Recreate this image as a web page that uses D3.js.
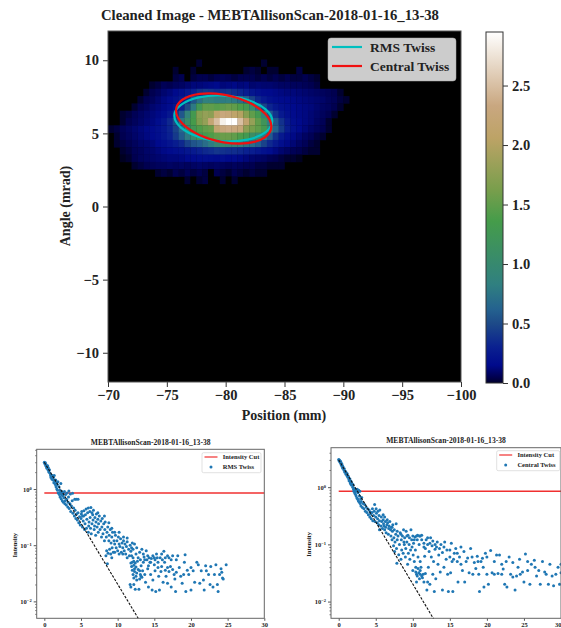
<!DOCTYPE html>
<html>
<head>
<meta charset="utf-8">
<script src="https://d3js.org/d3.v7.min.js"></script>
<style>
    html, body { margin: 0; padding: 0; background: #fff; overflow: hidden; }
    text { font-family: "Liberation Serif", serif; font-weight: bold; fill: #222; }
</style>
</head>
<body>
<svg id="drawing_region" width="561" height="628"></svg>
<script>
const scanName = "MEBTAllisonScan-2018-01-16_13-38";
const mainTitle = "Cleaned Image - " + scanName;

// heat map: one list per row, top row first
const heatTop = [10.05, 9.55, 9.05, 8.55, 8.05, 7.55, 7.05, 6.55, 6.05, 5.55, 5.05, 4.55, 4.05, 3.55, 3.05, 2.55, 2.05];
const heatStart = [-77.5, -75.5, -75.5, -73.5, -73, -72.5, -72, -71, -71, -70, -70.5, -70.5, -71, -71, -72, -74, -76.5];
const heatRows = [
    [.03,0,0,0,0,0,0,0,0,0,0,.03],
    [.03,0,0,.03,0,0,0,0,0,0,0,0,.03,.04,.03,0,.03,.03,0,0,0,.04],
    [.04,.05,0,.04,.05,.05,.04,.05,.06,.05,.04,.05,.05,.05,.04,.05,.04,.05,.04,.05,.04,.04,.05,.04,.03],
    [.03,.04,.06,.05,.07,.08,.10,.12,.12,.13,.14,.15,.12,.13,.14,.12,.13,.10,.11,.10,.10,.09,.08,.08,.07,.07,.06,.05,.04],
    [.03,.05,.07,.10,.12,.15,.20,.25,.30,.38,.42,.40,.36,.38,.40,.36,.33,.28,.23,.19,.16,.15,.14,.13,.12,.12,.11,.10,.09,.08,.07,.06,.05,.03],
    [.03,.05,.07,.10,.13,.16,.20,.26,.36,.55,.72,.85,.85,.80,.80,.82,.78,.70,.60,.46,.33,.25,.20,.17,.16,.15,.14,.13,.12,.11,.10,.09,.07,.06,.04,.03],
    [.03,.05,.07,.10,.12,.14,.17,.23,.32,.50,.78,1.25,1.50,1.50,1.45,1.50,1.55,1.50,1.40,1.30,1.00,.68,.46,.32,.24,.19,.17,.15,.14,.13,.12,.10,.08,.07,.05,.03],
    [.03,.04,.06,.08,.10,.12,.14,.17,.24,.36,.56,.88,1.30,1.70,1.80,1.75,2.10,2.30,2.25,2.10,2.00,1.70,1.50,1.30,.88,.56,.38,.25,.19,.16,.14,.13,.11,.09,.07,.05,.03],
    [.03,.05,.07,.09,.11,.13,.17,.23,.34,.50,.76,1.05,1.35,1.65,1.80,2.20,2.50,2.85,2.95,2.95,2.50,2.15,1.80,1.50,1.20,.82,.56,.38,.25,.18,.15,.13,.11,.08,.06,.03],
    [.03,.04,.06,.08,.10,.12,.14,.16,.19,.24,.32,.46,.66,.92,1.25,1.40,1.50,1.55,2.15,2.30,2.35,2.30,2.25,1.75,1.60,1.50,1.30,.92,.62,.42,.27,.19,.15,.12,.09,.07,.05,.03],
    [.03,.05,.07,.09,.11,.13,.15,.18,.23,.30,.42,.58,.78,1.00,1.20,1.30,1.40,1.50,1.55,1.55,1.50,1.40,1.30,1.10,1.00,.78,.58,.38,.25,.18,.14,.11,.08,.06,.04,.03],
    [.03,.04,.05,.07,.09,.10,.12,.15,.18,.22,.27,.34,.46,.55,.60,.70,.80,.95,1.00,.95,.90,.85,.75,.70,.60,.46,.34,.25,.18,.14,.11,.08,.06,.04,.03],
    [.03,.04,.06,.07,.09,.10,.12,.14,.16,.18,.20,.23,.26,.30,.34,.36,.40,.38,.36,.36,.34,.30,.28,.24,.20,.17,.13,.10,.08,.06,.05,.04,.03,.03],
    [.02,.03,.05,.07,.08,.09,.10,.11,.12,.12,.13,.15,.16,.17,.18,.17,.16,.18,.15,.16,.14,.12,.10,.09,.08,.06,.05,.04,.03,.03,.02],
    [.03,.04,.05,.06,.07,.07,.08,.07,.08,.07,.08,.09,.08,.07,.08,.07,.06,.07,.06,.05,.05,.04,.04,.03,.03,.03],
    [.03,.04,.03,.05,.04,.06,.04,.05,.04,0,.05,.04,.03,.05,.04,.03,.04,.03,.03],
    [.03,0,.03,.04,0,0,.03,0,.03]
];
const heatMax = 2.95;

// colour map, value then colour
const earthValues = [0, .05, .15, .3, .5, .62, .83, 1.36, 1.62, 2.06, 2.33, 2.95];
const earthColors = ["#000000", "#000050", "#000a8c", "#0a2090", "#1d4a88", "#24628f", "#308080", "#459c4a", "#789e4c", "#bda366", "#c9a780", "#ffffff"];

const mainXTicks = [-70, -75, -80, -85, -90, -95, -100];
const mainYTicks = [-10, -5, 0, 5, 10];
const barTicks = [0, 0.5, 1, 1.5, 2, 2.5];

// twiss ellipses: position (mm), angle (mrad)
const rmsEllipse = [[-83.96,5.84],[-83.40,6.64],[-81.88,7.28],[-79.80,7.58],[-77.72,7.46],[-76.20,6.95],[-75.64,6.20],[-76.20,5.39],[-77.72,4.76],[-79.80,4.46],[-81.88,4.57],[-83.40,5.08]];
const centralEllipse = [[-83.88,5.48],[-83.34,6.36],[-81.85,7.16],[-79.83,7.65],[-77.80,7.70],[-76.32,7.30],[-75.78,6.56],[-76.32,5.67],[-77.80,4.88],[-79.83,4.39],[-81.85,4.33],[-83.34,4.73]];

const cutValue = 0.85;
const fitX = [0, 12.8];
const fitY = [3.0, 0.005];
const scatterXTicks = [0, 5, 10, 15, 20, 25, 30];
const scatterYTicks = [1, 0.1, 0.01];
const scatterYLabels = ["0", "\u22121", "\u22122"];

const rmsPoints = [[0,3.0],[.05,2.9],[.1,2.8],[.15,2.95],[.2,2.6],[.25,2.7],[.3,2.5],[.35,2.35],[.4,2.45],[.45,2.6],[.5,2.2],[.55,2.4],[.6,2.1],[.65,2.0],[.7,2.2],[.8,1.9],[.85,1.75],[.9,1.6],[1,1.7],[1.05,1.5],[1.1,1.75],[1.2,1.45],[1.25,1.6],[1.3,1.3],[1.35,1.75],[1.4,1.4],[1.5,1.2],[1.55,1.45],[1.6,1.1],[1.65,1.3],[1.7,1.0],[1.75,1.2],[1.8,.95],[1.85,1.35],[1.9,.85],[2,1.1],[2.05,.8],[2.1,.95],[2.15,.72],[2.2,.88],[2.25,1.25],[2.3,.67],[2.35,.8],[2.4,.9],[2.45,.62],[2.5,.75],[2.55,.85],[2.6,.58],[2.7,.7],[2.75,.9],[2.8,.55],[2.85,.62],[2.9,.8],[3,.52],[3.05,.65],[3.1,.85],[3.2,.48],[3.25,.58],[3.3,.72],[3.35,.92],[3.4,.45],[3.5,.55],[3.55,.82],[3.6,.4],[3.7,.5],[3.8,.62],[3.85,.84],[3.9,.37],[4,.46],[4.1,.33],[4.15,.66],[4.2,.42],[4.3,.3],[4.35,.66],[4.4,.36],[4.5,.28],[4.6,.66],[4.6,.38],[4.7,.25],[4.8,.32],[4.9,.23],[5,.3],[5.05,.36],[5.1,.4],[5.2,.21],[5.3,.27],[5.35,.33],[5.4,.41],[5.5,.19],[5.55,.24],[5.6,.35],[5.7,.44],[5.75,.2],[5.8,.29],[5.9,.38],[6,.17],[6.05,.22],[6.1,.26],[6.2,.4],[6.25,.31],[6.3,.2],[6.35,.47],[6.4,.16],[6.5,.24],[6.6,.35],[6.65,.28],[6.7,.42],[6.8,.19],[6.85,.22],[6.9,.31],[7,.15],[7.05,.26],[7.1,.36],[7.2,.21],[7.3,.29],[7.35,.17],[7.4,.24],[7.5,.33],[7.6,.19],[7.7,.27],[7.8,.14],[7.85,.21],[7.9,.3],[8,.16],[8.1,.24],[8.2,.12],[8.25,.19],[8.3,.26],[8.4,.065],[8.45,.14],[8.5,.08],[8.55,.17],[8.6,.047],[8.65,.21],[8.7,.072],[8.8,.12],[8.85,.15],[8.9,.085],[9,.19],[9.05,.07],[9.1,.11],[9.2,.14],[9.25,.09],[9.3,.17],[9.4,.075],[9.5,.12],[9.6,.105],[9.7,.15],[9.8,.09],[9.9,.12],[10,.08],[10.1,.14],[10.2,.105],[10.3,.095],[10.4,.13],[10.5,.075],[10.6,.11],[10.7,.09],[10.8,.12],[10.9,.08],[11,.105],[11.1,.07],[11.2,.095],[11.3,.115],[11.5,.085],[11.6,.065],[11.7,.1],[11.8,.078],[11.9,.09],[12,.11],[11.8,.048],[11.9,.042],[12,.036],[12,.05],[12.1,.03],[12.2,.044],[12.2,.026],[12.3,.034],[12.3,.038],[12.4,.048],[12.5,.028],[12.5,.041],[12.6,.032],[12.7,.052],[12.8,.037],[11.7,.02],[11.8,.018],[12.4,.0165],[12.9,.0165],[13,.025],[13.1,.03],[13.2,.043],[13.3,.027],[13.4,.035],[13.5,.05],[13.6,.062],[13.7,.03],[13.8,.022],[14,.055],[14.1,.038],[14.2,.018],[14.4,.05],[14.5,.03],[14.6,.058],[14.7,.016],[14.8,.024],[15,.045],[15,.06],[15.1,.035],[15.2,.015],[15.4,.06],[15.6,.028],[15.7,.016],[15.9,.034],[16,.042],[16,.07],[16.2,.022],[16.3,.078],[16.4,.05],[16.6,.028],[16.8,.021],[17,.06],[17,.034],[17.2,.042],[17.3,.018],[17.5,.065],[17.7,.03],[17.8,.025],[17.9,.015],[18,.033],[18.2,.065],[18.4,.04],[18.6,.028],[18.8,.021],[19,.03],[19.1,.05],[19.2,.068],[19.3,.015],[19.5,.036],[19.7,.03],[20,.016],[20,.04],[20.3,.035],[20.5,.022],[20.8,.05],[21,.045],[21.2,.021],[21.4,.035],[21.7,.024],[21.8,.016],[22,.043],[22.1,.035],[22.4,.03],[22.6,.02],[22.7,.042],[23,.018],[23.2,.03],[23.4,.045],[23.6,.02],[23.7,.015],[23.9,.03],[24.1,.038],[24.2,.033],[24.3,.026],[24.4,.025],[24.8,.045],[5.2,.33],[6,.46],[6.5,.38],[7.3,.38],[8.2,.33],[8.8,.25],[9.2,.2],[9.6,.17],[10.2,.17],[10.8,.14],[11.3,.135],[12.1,.085],[12.3,.105],[12.5,.07],[12.6,.09],[12.8,.06],[13,.075],[13.1,.055],[13.3,.085],[13.5,.07],[13.7,.055],[13.9,.08],[14.1,.065],[14.3,.06],[14.5,.05],[14.8,.065],[15.1,.055],[15.3,.07],[15.5,.05],[15.8,.06],[16.1,.055],[16.5,.06],[16.8,.065],[17.3,.055],[18,.055],[9.2,.06],[9.6,.075],[10.2,.07],[10.7,.07],[11.3,.06],[11.9,.065],[12.1,.06],[12.2,.052],[13,.035],[13.2,.028],[12.6,.024],[12.2,.02],[14.2,.043],[15.5,.04],[16.5,.036],[17.5,.037],[16.8,.04]];

const centralPoints = [[0,3.05],[.05,2.9],[.1,3.0],[.15,2.8],[.2,2.7],[.25,2.85],[.3,2.55],[.35,2.45],[.4,2.6],[.45,2.3],[.5,2.4],[.55,2.15],[.6,2.25],[.7,2.0],[.75,2.1],[.8,1.85],[.9,1.9],[.95,1.7],[1,1.8],[1.1,1.6],[1.15,1.72],[1.2,1.5],[1.3,1.55],[1.35,1.4],[1.4,1.3],[1.5,1.4],[1.55,1.2],[1.6,1.3],[1.65,1.12],[1.7,1.25],[1.75,1.08],[1.8,1.15],[1.9,1.0],[1.95,1.1],[2,.92],[2.05,.85],[2.1,.95],[2.15,.8],[2.2,.9],[2.25,.75],[2.3,.92],[2.35,.7],[2.4,.85],[2.45,.65],[2.5,.92],[2.55,.62],[2.6,.8],[2.65,.58],[2.7,.88],[2.75,.55],[2.8,.7],[2.85,.85],[2.9,.52],[2.95,.62],[3,.47],[3.05,.56],[3.1,.66],[3.2,.44],[3.3,.52],[3.4,.42],[3.5,.5],[3.6,.38],[3.7,.45],[3.8,.36],[3.9,.42],[4,.33],[4.1,.4],[4.2,.3],[4.25,.37],[4.3,.34],[4.4,.28],[4.5,.36],[4.55,.42],[4.6,.26],[4.7,.32],[4.8,.38],[4.85,.5],[4.9,.25],[5,.3],[5.05,.42],[5.1,.35],[5.2,.24],[5.25,.28],[5.3,.38],[5.4,.22],[5.45,.32],[5.5,.26],[5.55,.4],[5.7,.21],[5.75,.3],[5.8,.25],[5.9,.19],[6,.27],[6.05,.23],[6.1,.21],[6.2,.18],[6.3,.25],[6.35,.2],[6.4,.16],[6.5,.22],[6.55,.27],[6.6,.24],[6.7,.15],[6.75,.19],[6.8,.21],[6.9,.25],[7,.18],[7.05,.14],[7.1,.2],[7.2,.12],[7.25,.17],[7.3,.22],[7.4,.095],[7.45,.13],[7.5,.18],[7.55,.075],[7.6,.11],[7.7,.15],[7.75,.23],[7.8,.085],[7.85,.047],[7.9,.12],[8,.14],[8.1,.066],[8.2,.1],[8.3,.16],[8.4,.055],[8.45,.12],[8.5,.08],[8.6,.14],[8.7,.07],[8.75,.18],[8.85,.1],[8.9,.13],[9,.06],[9.05,.085],[9.1,.17],[9.2,.11],[9.3,.045],[9.35,.145],[9.4,.07],[9.5,.1],[9.55,.13],[9.6,.055],[9.7,.08],[9.75,.18],[9.85,.12],[9.9,.09],[10,.14],[10,.035],[10.05,.065],[10.1,.105],[10.2,.05],[10.3,.135],[10.35,.08],[10.4,.033],[10.5,.14],[10.5,.03],[10.6,.028],[10.65,.145],[10.7,.06],[10.8,.032],[10.85,.1],[10.9,.025],[11,.035],[11,.14],[11.2,.12],[11.3,.026],[11.4,.03],[11.5,.09],[11.5,.022],[11.6,.062],[11.7,.031],[11.8,.12],[11.9,.016],[12,.1],[12.1,.04],[12.2,.075],[12.3,.02],[12.4,.13],[12.5,.06],[12.6,.095],[12.7,.03],[12.8,.05],[12.9,.015],[13,.082],[13.1,.025],[13.3,.11],[13.4,.045],[13.5,.065],[13.7,.033],[13.8,.1],[14,.072],[14,.016],[14.2,.04],[14.3,.11],[14.5,.055],[14.7,.03],[14.8,.015],[15,.08],[15.1,.032],[15.2,.105],[15.3,.05],[15.4,.015],[15.6,.07],[15.8,.085],[16,.05],[16.1,.022],[16.3,.06],[16.5,.09],[16.7,.035],[16.9,.075],[17,.022],[17.2,.05],[17.4,.058],[17.6,.032],[17.8,.085],[18,.06],[18.1,.03],[18.3,.048],[18.5,.038],[18.7,.062],[18.9,.03],[19,.015],[19.2,.05],[19.4,.057],[19.6,.018],[19.8,.07],[20,.06],[20,.03],[20.2,.02],[20.5,.078],[20.7,.032],[21,.05],[21.3,.065],[21.5,.031],[21.7,.065],[22,.03],[22.2,.037],[22.4,.02],[22.6,.05],[22.7,.018],[23,.06],[23.2,.03],[23.5,.048],[23.8,.016],[24,.028],[24.2,.04],[24.4,.055],[24.8,.033],[25,.022],[25.2,.068],[25.5,.035],[25.8,.02],[26,.045],[26.4,.053],[26.7,.028],[27,.035],[27.2,.02],[27.5,.05],[27.8,.033],[28,.03],[28.3,.02],[28.5,.045],[28.8,.028],[29,.019],[29.3,.03],[29.6,.04],[29.8,.02],[30,.032],[30,.045],[10.2,.12],[10.6,.12],[10.9,.14],[11.2,.145],[11.5,.105],[11.7,.085],[12,.13],[12.3,.105],[12.7,.115],[13,.1],[13.2,.09],[13.6,.085],[14.2,.09],[14.6,.08],[15,.06],[15.5,.055],[16,.07],[9.2,.14],[8.4,.15],[8.8,.11],[7.9,.17],[7.2,.2],[6.2,.3],[6,.33],[5.5,.18],[10.4,.04],[10.7,.038],[11,.03],[11.1,.04],[11.2,.028],[10.5,.022],[11,.05],[12,.022],[16.5,.045],[18.8,.05],[19.5,.04],[21,.03],[22,.045],[23.5,.027],[24.5,.03],[25.5,.05],[26.5,.04]];

const svg = d3.select("#drawing_region");

function styleAxis( group, color ) {
    group.select(".domain").remove();
    group.selectAll("line").attr("stroke", color);
    group.selectAll("text").attr("fill", "#222");
}

class ImagePlot {

    constructor( config ) {
        this.config = config;
        this.init();
    }

    init() {
        let self = this;
        let c = self.config;

        self.xscale = d3.scaleLinear().domain([-70, -100]).range([c.left, c.right]);
        self.yscale = d3.scaleLinear().domain([12, -12]).range([c.top, c.bottom]);
        self.colorscale = d3.scaleLinear().domain(earthValues).range(earthColors).clamp(true);
    }

    render() {
        let self = this;
        let c = self.config;
        const x = self.xscale, y = self.yscale;

        svg.append("rect")
            .attr("x", c.left).attr("y", c.top)
            .attr("width", c.right - c.left).attr("height", c.bottom - c.top)
            .attr("fill", "#000");

        heatRows.forEach( (row, k) => {
            svg.append("g").selectAll("rect")
                .data(row)
                .join("rect")
                .attr("x", (d, i) => x(heatStart[k] - i * 0.5))
                .attr("y", y(heatTop[k]))
                .attr("width", x(-70.5) - x(-70) + 0.3)
                .attr("height", y(0) - y(0.5) + 0.3)
                .attr("fill", d => d > 0 ? self.colorscale(d) : "#000");
        });

        const ellipse = d3.line()
            .x( d => x(d[0]) )
            .y( d => y(d[1]) )
            .curve(d3.curveCardinalClosed.tension(0));

        svg.append("path").attr("d", ellipse(rmsEllipse))
            .attr("fill", "none").attr("stroke", "#00bfbf").attr("stroke-width", 2.2);
        svg.append("path").attr("d", ellipse(centralEllipse))
            .attr("fill", "none").attr("stroke", "#f01010").attr("stroke-width", 2.2);

        const xaxis = svg.append("g")
            .attr("transform", `translate(0, ${c.bottom})`)
            .call(d3.axisBottom(x).tickValues(mainXTicks).tickFormat(d3.format("d")).tickSize(5).tickPadding(3));
        const yaxis = svg.append("g")
            .attr("transform", `translate(${c.left}, 0)`)
            .call(d3.axisLeft(y).tickValues(mainYTicks).tickFormat(d3.format("d")).tickSize(5).tickPadding(4));
        [xaxis, yaxis].forEach( g => {
            styleAxis(g, "#333");
            g.selectAll("text").attr("font-size", 14.5);
        });

        svg.append("rect")
            .attr("x", c.left).attr("y", c.top)
            .attr("width", c.right - c.left).attr("height", c.bottom - c.top)
            .attr("fill", "none").attr("stroke", "#555").attr("stroke-width", 1);

        svg.append("text").attr("x", 270).attr("y", 20)
            .attr("text-anchor", "middle").attr("font-size", 14.7).text(mainTitle);
        svg.append("text").attr("x", 284).attr("y", 420)
            .attr("text-anchor", "middle").attr("font-size", 14).text("Position (mm)");
        svg.append("text").attr("transform", "translate(70, 206) rotate(-90)")
            .attr("text-anchor", "middle").attr("font-size", 14).text("Angle (mrad)");

        // legend
        const legend = svg.append("g");
        legend.append("rect")
            .attr("x", 328).attr("y", 38).attr("width", 128).attr("height", 43).attr("rx", 3)
            .attr("fill", "#cccccc").attr("stroke", "#aaa").attr("stroke-width", 0.5);
        [["RMS Twiss", "#00bfbf", 47], ["Central Twiss", "#f01010", 66]].forEach( d => {
            legend.append("line").attr("x1", 332).attr("x2", 362).attr("y1", d[2]).attr("y2", d[2])
                .attr("stroke", d[1]).attr("stroke-width", 2.2);
            legend.append("text").attr("x", 370).attr("y", d[2] + 4.5)
                .attr("font-size", 13.5).text(d[0]);
        });
    }
}

class ColorBar {

    constructor( config ) {
        this.config = config;
        this.scale = d3.scaleLinear().domain([0, heatMax]).range([config.bottom, config.top]);
    }

    render() {
        let c = this.config;

        const grad = svg.append("defs").append("linearGradient")
            .attr("id", "earth").attr("x1", 0).attr("x2", 0).attr("y1", 1).attr("y2", 0);
        grad.selectAll("stop").data(earthValues).join("stop")
            .attr("offset", d => d / heatMax)
            .attr("stop-color", (d, i) => i == 0 ? "#00002a" : earthColors[i]);

        svg.append("rect")
            .attr("x", c.left).attr("y", c.top)
            .attr("width", c.right - c.left).attr("height", c.bottom - c.top)
            .attr("fill", "url(#earth)").attr("stroke", "#333").attr("stroke-width", 1);

        const axis = svg.append("g")
            .attr("transform", `translate(${c.right}, 0)`)
            .call(d3.axisRight(this.scale).tickValues(barTicks).tickFormat(d3.format(".1f")).tickSize(5).tickPadding(4));
        styleAxis(axis, "#333");
        axis.selectAll("text").attr("font-size", 14.5);
    }
}

class ScatterPlot {

    constructor( config, data ) {
        this.config = config;
        this.data = data;
        this.init();
    }

    init() {
        let self = this;
        let c = self.config;

        self.xscale = d3.scaleLinear().domain(c.xdomain).range([c.left, c.right]);
        self.yscale = d3.scaleLog().domain(c.ydomain).range([c.bottom, c.top]);
    }

    render() {
        let self = this;
        let c = self.config;
        const x = self.xscale, y = self.yscale;

        const marks = svg.append("g");

        marks.append("line")
            .attr("x1", x(0)).attr("x2", x(30))
            .attr("y1", y(cutValue)).attr("y2", y(cutValue))
            .attr("stroke", "#f03030").attr("stroke-width", 1.4);

        marks.append("g").selectAll("circle")
            .data(self.data)
            .join("circle")
            .attr("cx", d => x(d[0]))
            .attr("cy", d => y(d[1]))
            .attr("r", 1.5)
            .attr("fill", "#1f77b4");

        marks.append("line")
            .attr("x1", x(fitX[0])).attr("x2", x(fitX[1]))
            .attr("y1", y(fitY[0])).attr("y2", y(fitY[1]))
            .attr("stroke", "#111").attr("stroke-width", 1.1)
            .attr("stroke-dasharray", "2.6,1.4");

        const xaxis = svg.append("g")
            .attr("transform", `translate(0, ${c.bottom})`)
            .call(d3.axisBottom(x).tickValues(scatterXTicks).tickSize(2.5).tickPadding(1.5));
        styleAxis(xaxis, "#555");
        xaxis.selectAll("text").attr("font-size", 6.5);
        // keep the last label inside the page when the axes reach its edge
        if (c.right >= 561) {
            xaxis.selectAll("text").filter( d => d == 30 ).attr("text-anchor", "end");
        }

        // minor log ticks
        const minor = [];
        [1, 0.1, 0.01, 0.001].forEach( p => d3.range(2, 10).forEach( m => {
            const v = p * m;
            if (v > c.ydomain[0] && v < c.ydomain[1]) minor.push(v);
        }));
        const minorAxis = svg.append("g")
            .attr("transform", `translate(${c.left}, 0)`)
            .call(d3.axisLeft(y).tickValues(minor).tickFormat("").tickSize(1.5));
        styleAxis(minorAxis, "#777");

        const yaxis = svg.append("g")
            .attr("transform", `translate(${c.left}, 0)`)
            .call(d3.axisLeft(y).tickValues(scatterYTicks).tickFormat("").tickSize(3));
        styleAxis(yaxis, "#555");
        yaxis.selectAll(".tick").append("text")
            .attr("x", -5).attr("dy", "0.32em")
            .attr("text-anchor", "end").attr("font-size", 6.5)
            .attr("fill", "#222")
            .each( function(d, i) {
                d3.select(this).append("tspan").text("10");
                d3.select(this).append("tspan").attr("dy", "-0.45em").attr("font-size", 4.5).text(scatterYLabels[i]);
            });

        svg.append("rect")
            .attr("x", c.left).attr("y", c.top)
            .attr("width", c.right - c.left).attr("height", c.bottom - c.top)
            .attr("fill", "none").attr("stroke", "#666").attr("stroke-width", 1);

        svg.append("text").attr("x", c.titleX).attr("y", c.titleY)
            .attr("text-anchor", "middle").attr("font-size", 7.6).text(scanName);
        svg.append("text").attr("transform", `translate(${c.labelX}, ${y(0.1)}) rotate(-90)`)
            .attr("text-anchor", "middle").attr("font-size", 6.5).text("Intensity");

        const l = c.legend;
        svg.append("rect")
            .attr("x", l.x).attr("y", l.y).attr("width", l.w).attr("height", 20).attr("rx", 1.5)
            .attr("fill", "#fff").attr("stroke", "#ccc").attr("stroke-width", 0.6);
        svg.append("line")
            .attr("x1", l.x + 2.5).attr("x2", l.x + 15.5).attr("y1", l.y + 4.3).attr("y2", l.y + 4.3)
            .attr("stroke", "#f03030").attr("stroke-width", 1.2);
        svg.append("circle")
            .attr("cx", l.x + 9).attr("cy", l.y + 14.3).attr("r", 1.5).attr("fill", "#1f77b4");
        svg.append("text").attr("x", l.x + 20.7).attr("y", l.y + 6.3)
            .attr("font-size", 6.5).text("Intensity Cut");
        svg.append("text").attr("x", l.x + 20.7).attr("y", l.y + 16.3)
            .attr("font-size", 6.5).text(c.series);
    }
}

const image = new ImagePlot({ left: 108, right: 461, top: 31, bottom: 382 });
image.render();

const bar = new ColorBar({ left: 486, right: 503, top: 32, bottom: 383 });
bar.render();

const leftChart = new ScatterPlot({
    id: "left", left: 36.7, right: 264.3, top: 449.3, bottom: 618.3,
    xdomain: [-1.04, 30], ydomain: [0.005, 5.1],
    titleX: 150.7, titleY: 444.5, labelX: 16.5,
    series: "RMS Twiss",
    legend: { x: 202, y: 452.7, w: 59 }
}, rmsPoints);
leftChart.render();

const rightChart = new ScatterPlot({
    id: "right", left: 331, right: 561, top: 447.7, bottom: 618.3,
    xdomain: [-1.04, 30], ydomain: [0.0051, 4.9],
    titleX: 446, titleY: 442.7, labelX: 310.5,
    series: "Central Twiss",
    legend: { x: 496.7, y: 450.7, w: 63 }
}, centralPoints);
rightChart.render();
</script>
</body>
</html>
